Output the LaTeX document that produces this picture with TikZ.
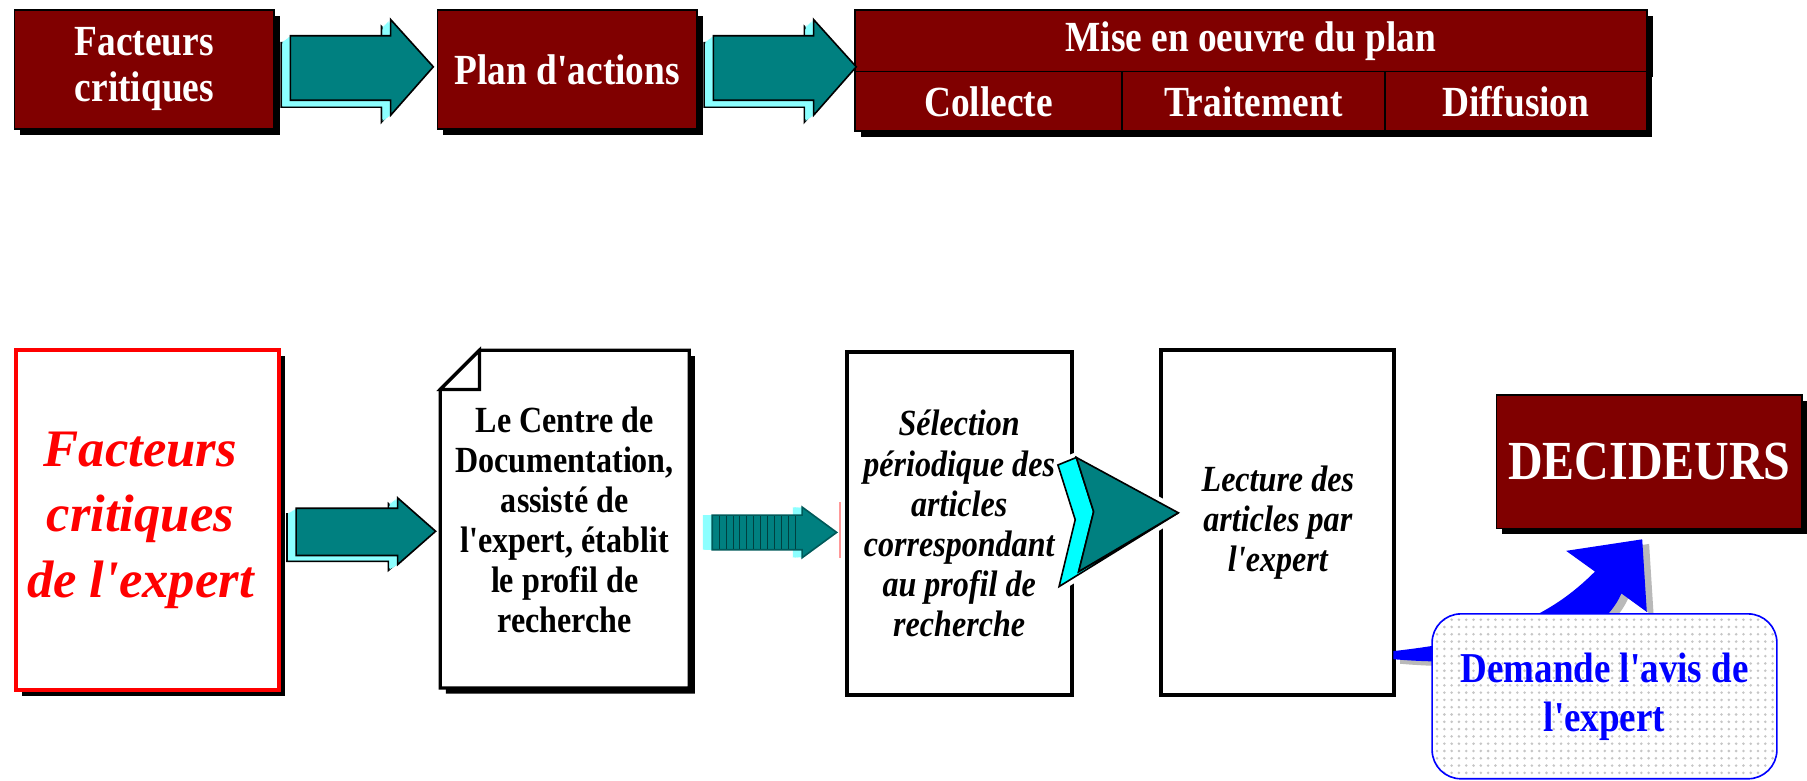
\documentclass[tikz,border=0pt]{standalone}
\usepackage{fontspec}
\setmainfont{Liberation Serif}
\newfontfamily\narrowtimes{Liberation Serif}[FakeStretch=0.87]
\newfontfamily\widetimes{Liberation Serif}
\usetikzlibrary{shadows}
\usetikzlibrary{patterns.meta}
\definecolor{maroon}{RGB}{128,0,0}
\definecolor{sidecyan}{RGB}{140,255,255}
\definecolor{brightcyan}{RGB}{0,255,255}

\begin{document}
\begin{tikzpicture}[x=0.01cm, y=-0.01cm,
 plan/.style={draw=black, fill=maroon, text=white, align=center, inner sep=0pt, anchor=north west,
   font=\narrowtimes\fontsize{10.6}{11.4}\selectfont\bfseries,
   drop shadow={shadow xshift=0.05cm, shadow yshift=-0.05cm, fill=black, opacity=1}},
 sheet/.style={draw=black, line width=1pt, fill=white, align=center, inner sep=0pt, anchor=north west,
   font=\narrowtimes\fontsize{9.1}{9.9}\selectfont\bfseries\itshape}]
\useasboundingbox (0,0) rectangle (1568,677);

\node[plan, minimum width=2.25cm, minimum height=1.03cm] (fc) at (12,8) {Facteurs\\critiques};
\node[plan, minimum width=2.25cm, minimum height=1.03cm] (pa) at (379,8) {Plan d'actions};
\node[plan, minimum width=6.87cm, minimum height=0.535cm] (mo) at (741,8) {Mise en oeuvre du plan};
\node[plan, minimum width=2.32cm, minimum height=0.515cm] (co) at (741,61.5) {Collecte};
\node[plan, minimum width=2.28cm, minimum height=0.515cm] (tr) at (973,61.5) {Traitement};
\node[plan, minimum width=2.27cm, minimum height=0.515cm] (di) at (1201,61.5) {Diffusion};

\foreach \dx in {0,367} {
 \filldraw[fill=sidecyan, draw=black, thin, shift={(\dx-8,6)}] (252,31) -- (339,31) -- (339,17) -- (376,58) -- (339,100) -- (339,87) -- (252,87) -- cycle;
 \foreach \s in {7,6,...,1}
  \fill[sidecyan, shift={(\dx-\s,0.75*\s)}] (252,31) -- (339,31) -- (339,17) -- (376,58) -- (339,100) -- (339,87) -- (252,87) -- cycle;
 \filldraw[fill=teal, draw=black, thin, shift={(\dx,0)}] (252,31) -- (339,31) -- (339,17) -- (376,58) -- (339,100) -- (339,87) -- (252,87) -- cycle;
}

\node[draw=red, line width=1pt, fill=white, text=red, align=center, inner sep=0pt, anchor=north west,
  minimum width=2.28cm, minimum height=2.95cm,
  font=\widetimes\fontsize{13}{16.2}\selectfont\bfseries\itshape,
  drop shadow={shadow xshift=0.05cm, shadow yshift=-0.05cm, fill=black, opacity=1}]
  (fe) at (12,302) {\hspace*{-0.12cm}Facteurs\\\hspace*{-0.12cm}critiques\\\hspace*{-0.12cm}de l'expert};

\filldraw[fill=sidecyan, draw=black, thin, shift={(-8,5)}] (257,441) -- (345,441) -- (345,432) -- (378,461) -- (345,490) -- (345,482) -- (257,482) -- cycle;
\foreach \s in {7,6,...,1}
 \fill[sidecyan, shift={(-\s,0.62*\s)}] (257,441) -- (345,441) -- (345,432) -- (378,461) -- (345,490) -- (345,482) -- (257,482) -- cycle;
\filldraw[fill=teal, draw=black, thin] (257,441) -- (345,441) -- (345,432) -- (378,461) -- (345,490) -- (345,482) -- (257,482) -- cycle;

\fill[black, shift={(5,5)}] (416,304) -- (598,304) -- (598,597) -- (382,597) -- (382,338) -- cycle;
\filldraw[fill=white, draw=black, line width=0.8pt] (416,304) -- (598,304) -- (598,597) -- (382,597) -- (382,338) -- cycle;
\draw[line width=0.8pt, fill=white] (382,338) -- (416,304) -- (416,338) -- cycle;
\node[align=center, font=\narrowtimes\fontsize{9.1}{9.9}\selectfont\bfseries] (cd) at (490,451)
  {Le Centre de\\Documentation,\\assisté de\\l'expert, établit\\le profil de\\recherche};

\foreach \s in {8,7,...,1}
 \fill[sidecyan, shift={(-\s,0)}] (618,447) -- (696,447) -- (696,440) -- (726,462) -- (696,484) -- (696,477) -- (618,477) -- cycle;
\filldraw[fill=teal, draw=teal!70!black] (618,447) -- (696,447) -- (696,440) -- (726,462) -- (696,484) -- (696,477) -- (618,477) -- cycle;
\foreach \x in {624,630,...,690}
 \draw[teal!50!black, very thin] (\x,448) -- (\x,476);
\draw[red!40] (729,436) -- (729,484);

\node[sheet, minimum width=1.95cm, minimum height=2.97cm] (se) at (733,304)
  {Sélection\\périodique des\\articles\\correspondant\\au profil de\\recherche};
\node[sheet, minimum width=2.02cm, minimum height=2.99cm] (le) at (1006,302)
  {Lecture des\\articles par\\l'expert};

\draw[white, line width=2.5pt, line join=round] (918,403.5) -- (934,397) -- (1022.5,445) -- (919,509) -- (933,451) -- cycle;
\filldraw[fill=brightcyan, draw=black, thin] (918,403.5) -- (934,397) -- (949,444) -- (936,496) -- (1022.5,445) -- (919,509) -- (933,451) -- cycle;
\filldraw[fill=teal, draw=black, thin] (934,397) -- (1022.5,445) -- (936,496) -- (949,444) -- cycle;

\node[plan, minimum width=2.65cm, minimum height=1.16cm, font=\narrowtimes\fontsize{13.6}{15}\selectfont\bfseries] (dec) at (1298,342) {DECIDEURS};

\fill[gray!55, shift={(6,4)}] (1209,565) .. controls (1300,555) and (1345,535) .. (1384,496) -- (1359,478) -- (1425,468) -- (1429,531) -- (1407,515) .. controls (1385,565) and (1300,580) .. (1209,572) -- cycle;
\fill[blue] (1209,565) .. controls (1300,555) and (1345,535) .. (1384,496) -- (1359,478) -- (1425,468) -- (1429,531) -- (1407,515) .. controls (1385,565) and (1300,580) .. (1209,572) -- cycle;

\node[draw=blue, rounded corners=0.25cm, preaction={fill=white}, pattern={Dots[distance=1.8pt, radius=0.35pt]}, pattern color=gray!45,
  text=blue, align=center, inner sep=0pt, anchor=north west, minimum width=2.99cm, minimum height=1.43cm,
  font=\narrowtimes\fontsize{10.5}{12.1}\selectfont\bfseries] (av) at (1242,532) {Demande l'avis de\\l'expert};
\end{tikzpicture}
\end{document}
